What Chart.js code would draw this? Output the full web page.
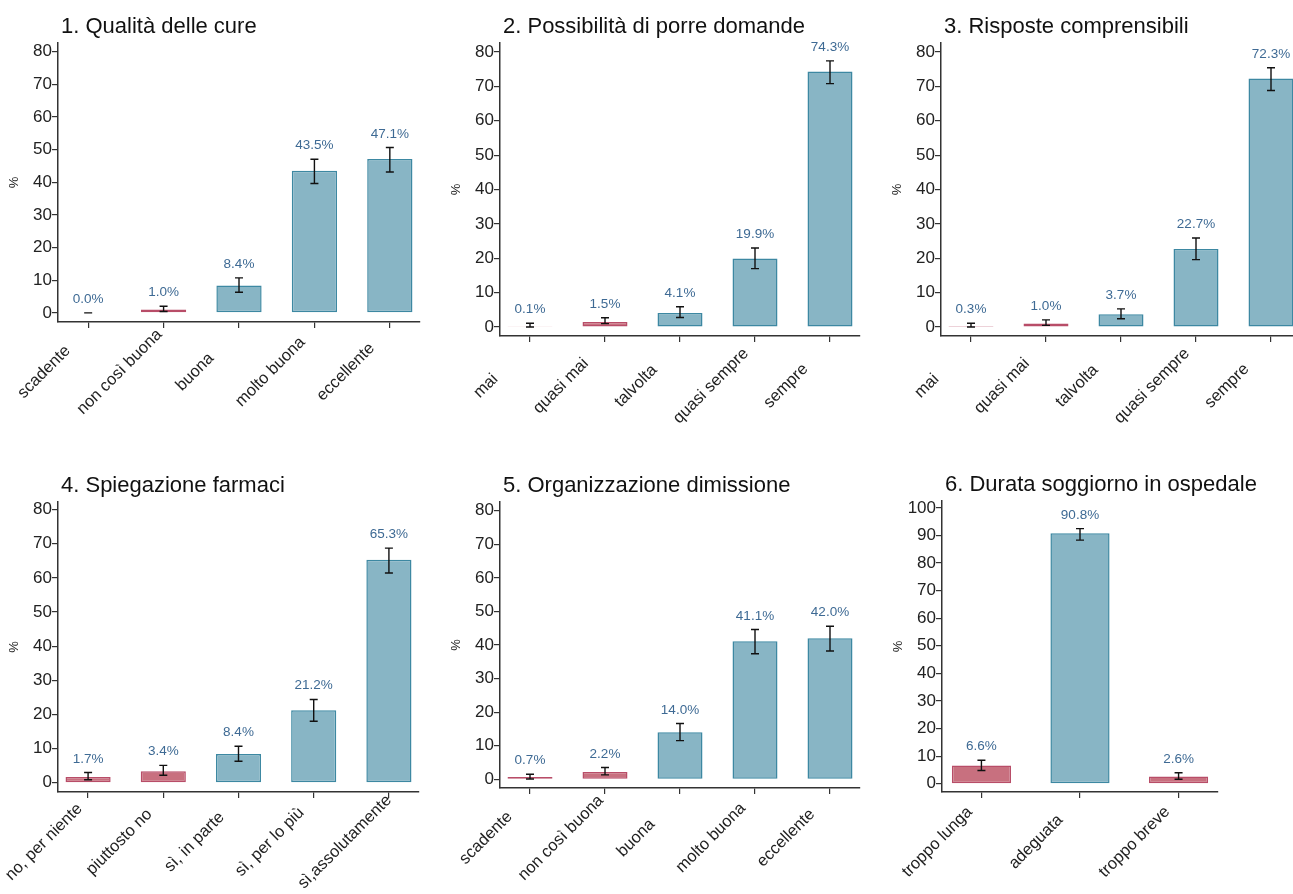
<!DOCTYPE html>
<html>
<head>
<meta charset="utf-8">
<script src="https://cdn.jsdelivr.net/npm/chart.js@4"></script>
<style>
    html, body { margin: 0; padding: 0; background: #fff; }
    body { width: 1293px; height: 894px; overflow: hidden; position: relative; }
    canvas { position: absolute; }
</style>
</head>
<body>
<canvas id="c1"></canvas>
<canvas id="c2"></canvas>
<canvas id="c3"></canvas>
<canvas id="c4"></canvas>
<canvas id="c5"></canvas>
<canvas id="c6"></canvas>
<script>
// categorie
const catQualita = ['scadente', 'non così buona', 'buona', 'molto buona', 'eccellente'];
const catFrequenza = ['mai', 'quasi mai', 'talvolta', 'quasi sempre', 'sempre'];
const catFarmaci = ['no, per niente', 'piuttosto no', 'sì, in parte', 'sì, per lo più', 'sì,assolutamente'];
const catDurata = ['troppo lunga', 'adeguata', 'troppo breve'];

// valori (%), limiti inferiori e superiori degli intervalli
const val1 = [0.0, 1.0, 8.4, 43.5, 47.1];
const low1 = [0.0, 0.4, 6.3, 39.6, 43.1];
const high1 = [0.0, 2.0, 10.7, 47.0, 50.6];

const val2 = [0.1, 1.5, 4.1, 19.9, 74.3];
const low2 = [0.0, 1.0, 2.8, 17.0, 70.8];
const high2 = [1.1, 2.7, 5.9, 23.0, 77.4];

const val3 = [0.3, 1.0, 3.7, 22.7, 72.3];
const low3 = [0.0, 0.5, 2.4, 19.6, 68.8];
const high3 = [1.1, 2.1, 5.3, 25.9, 75.4];

const val4 = [1.7, 3.4, 8.4, 21.2, 65.3];
const low4 = [0.9, 2.2, 6.3, 18.0, 61.4];
const high4 = [3.0, 5.1, 10.7, 24.4, 68.7];

const val5 = [0.7, 2.2, 14.0, 41.1, 42.0];
const low5 = [0.1, 1.3, 11.5, 37.4, 38.2];
const high5 = [1.5, 3.5, 16.6, 44.6, 45.6];

const val6 = [6.6, 90.8, 2.6];
const low6 = [4.8, 88.3, 1.6];
const high6 = [8.5, 92.5, 4.0];

// risposte negative (rosse)
const neg5 = [true, true, false, false, false];
const neg6 = [true, false, true];

// tick asse y
const ticks80 = [0, 10, 20, 30, 40, 50, 60, 70, 80];
const ticks100 = [0, 10, 20, 30, 40, 50, 60, 70, 80, 90, 100];

const FONT = '"Liberation Sans", Arial, Helvetica, sans-serif';
const RED_FILL = '#c8707f', RED_LINE = '#b84d68';
const BLUE_FILL = '#88b5c5', BLUE_LINE = '#3d88a2';

// barre di errore, etichette, etichette asse x e titolo
const extrasPlugin = {
    id: 'extras',
    afterDatasetsDraw(chart, args, opts) {
        const ctx = chart.ctx;
        const xs = chart.scales.x, ys = chart.scales.y;
        const area = chart.chartArea;
        ctx.save();
        opts.values.forEach((v, i) => {
            const x = xs.getPixelForValue(i);
            const yl = ys.getPixelForValue(opts.low[i]);
            const yh = ys.getPixelForValue(opts.high[i]);
            ctx.strokeStyle = '#111';
            ctx.lineWidth = 1.4;
            ctx.beginPath();
            ctx.moveTo(x, yl); ctx.lineTo(x, yh);
            ctx.moveTo(x - 4, yl); ctx.lineTo(x + 4, yl);
            ctx.moveTo(x - 4, yh); ctx.lineTo(x + 4, yh);
            ctx.stroke();
            ctx.fillStyle = '#3e6a94';
            ctx.font = '13.5px ' + FONT;
            ctx.textAlign = 'center';
            ctx.textBaseline = 'alphabetic';
            ctx.fillText(v.toFixed(1) + '%', x, yh - 10);

            // etichetta categoria ruotata attorno al centro
            ctx.save();
            ctx.translate(x - 44, area.bottom + 50);
            ctx.rotate(-Math.PI / 4);
            ctx.fillStyle = '#222';
            ctx.font = '16.5px ' + FONT;
            ctx.textBaseline = 'middle';
            ctx.fillText(opts.cats[i], 0, 0);
            ctx.restore();
        });
        ctx.fillStyle = '#111';
        ctx.font = '22px ' + FONT;
        ctx.textAlign = 'left';
        ctx.textBaseline = 'alphabetic';
        ctx.fillText(opts.title, area.left + 3, area.top - 10);
        ctx.restore();
    }
};

// crea un pannello
function makePanel(id, p) {
    const canvas = document.getElementById(id);
    const canvasLeft = p.left - 58;
    const width = p.right - p.left + 58 + 45;
    const height = 447;
    canvas.width = width;
    canvas.height = height;
    canvas.style.left = canvasLeft + 'px';
    canvas.style.top = p.rowTop + 'px';
    const xHeight = height - (p.bottom - p.rowTop);
    const n = p.cats.length;

    new Chart(canvas, {
        type: 'bar',
        data: {
            datasets: [{
                data: p.values.map((v, i) => ({ x: i, y: v })),
                backgroundColor: p.neg.map(r => r ? RED_FILL : BLUE_FILL),
                borderColor: p.neg.map(r => r ? RED_LINE : BLUE_LINE),
                borderWidth: 1.5,
                borderSkipped: false,
                barPercentage: 0.6,
                categoryPercentage: 1
            }]
        },
        options: {
            responsive: false,
            animation: false,
            layout: { padding: { left: 7, top: p.top - p.rowTop, right: 45, bottom: 0 } },
            plugins: {
                legend: { display: false },
                tooltip: { enabled: false },
                extras: { values: p.values, low: p.low, high: p.high, title: p.title, cats: p.cats }
            },
            scales: {
                x: {
                    type: 'linear',
                    offset: false,
                    min: -0.4,
                    max: n - 0.6,
                    afterBuildTicks: s => { s.ticks = p.cats.map((c, i) => ({ value: i })); },
                    afterFit: s => { s.height = xHeight; },
                    ticks: { display: false },
                    grid: { offset: false, drawOnChartArea: false, drawTicks: true, tickLength: 6, color: '#333', lineWidth: 1.2 },
                    border: { display: true, color: '#333', width: 1.5 }
                },
                y: {
                    type: 'linear',
                    min: p.ymin,
                    max: p.ymax,
                    afterBuildTicks: s => { s.ticks = p.yticks.map(v => ({ value: v })); },
                    afterFit: s => { s.width = 51; },
                    ticks: {
                        padding: 0,
                        color: '#222',
                        font: { family: FONT, size: 17 }
                    },
                    grid: { drawOnChartArea: false, drawTicks: true, tickLength: 6, color: '#333', lineWidth: 1.2 },
                    border: { display: true, color: '#333', width: 1.5 },
                    title: {
                        display: true,
                        text: '%',
                        color: '#222',
                        padding: 0,
                        font: { family: FONT, size: 13 }
                    }
                }
            }
        },
        plugins: [extrasPlugin]
    });
}

makePanel('c1', { title: '1. Qualità delle cure', cats: catQualita, values: val1, low: low1, high: high1, neg: neg5,
    left: 58, right: 420, top: 43, bottom: 322, rowTop: 0, ymin: -2.8, ymax: 82.6, yticks: ticks80 });
makePanel('c2', { title: '2. Possibilità di porre domande', cats: catFrequenza, values: val2, low: low2, high: high2, neg: neg5,
    left: 500, right: 860, top: 43, bottom: 336, rowTop: 0, ymin: -2.6, ymax: 82.6, yticks: ticks80 });
makePanel('c3', { title: '3. Risposte comprensibili', cats: catFrequenza, values: val3, low: low3, high: high3, neg: neg5,
    left: 941, right: 1301, top: 43, bottom: 336, rowTop: 0, ymin: -2.6, ymax: 82.6, yticks: ticks80 });
makePanel('c4', { title: '4. Spiegazione farmaci', cats: catFarmaci, values: val4, low: low4, high: high4, neg: neg5,
    left: 58, right: 419, top: 502, bottom: 792, rowTop: 447, ymin: -2.7, ymax: 82.2, yticks: ticks80 });
makePanel('c5', { title: '5. Organizzazione dimissione', cats: catQualita, values: val5, low: low5, high: high5, neg: neg5,
    left: 500, right: 860, top: 502, bottom: 788, rowTop: 447, ymin: -2.6, ymax: 82.6, yticks: ticks80 });
makePanel('c6', { title: '6. Durata soggiorno in ospedale', cats: catDurata, values: val6, low: low6, high: high6, neg: neg6,
    left: 942, right: 1218, top: 501, bottom: 792, rowTop: 447, ymin: -3.0, ymax: 102.5, yticks: ticks100 });
</script>
</body>
</html>
